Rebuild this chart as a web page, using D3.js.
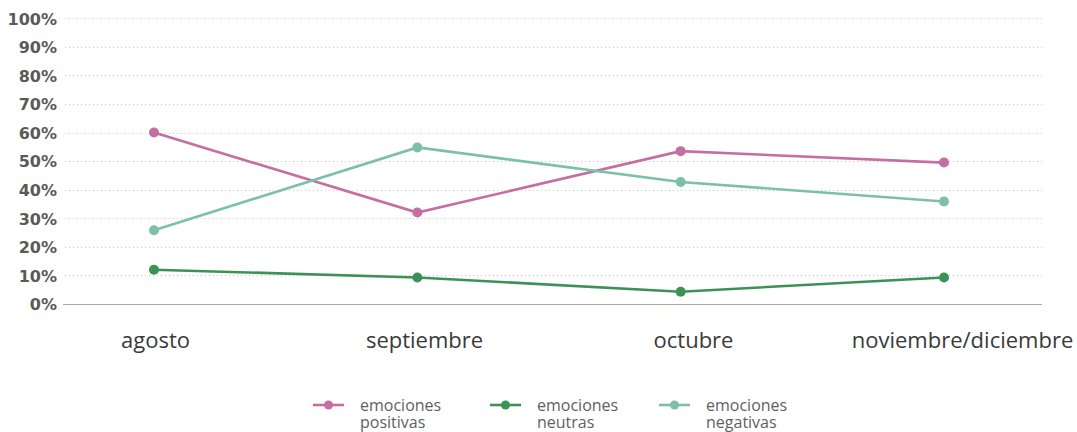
<!DOCTYPE html>
<html><head><meta charset="utf-8">
<script src="https://cdn.jsdelivr.net/npm/d3@7"></script>
<style>body{margin:0;background:#fff}svg{display:block}</style>
</head><body><svg id="c" width="1077" height="432"></svg>
<script>
const categories = ["agosto","septiembre","octubre","noviembre/diciembre"];
const positivas = [60, 32, 53.5, 49.5];
const neutras = [12, 9.3, 4.3, 9.3];
const negativas = [25.8, 54.8, 42.7, 35.9];
const yTicks = [0,10,20,30,40,50,60,70,80,90,100];
const seriesNames = ["emociones positivas","emociones neutras","emociones negativas"];
const colors = ["#c56ea4","#3c9157","#7dc0aa"];

const series = [positivas, neutras, negativas];
const svg = d3.select("#c");
const x = d3.scalePoint().domain(categories).range([154, 944]);
const xl = d3.scalePoint().domain(categories).range([155, 962]);
const y = d3.scaleLinear().domain([0,100]).range([304, 18.3]);

// gridlines
svg.append("g").selectAll("line").data(yTicks.filter(d=>d>0)).join("line")
  .attr("x1",65).attr("x2",1042).attr("y1",d=>Math.round(y(d))+0.5).attr("y2",d=>Math.round(y(d))+0.5)
  .attr("stroke","#c8c8c8").attr("stroke-width",1).attr("stroke-dasharray","1,3");
svg.append("line").attr("x1",63).attr("x2",1042).attr("y1",304.5).attr("y2",304.5)
  .attr("stroke","#aaa898").attr("stroke-width",1.2);

// y labels
const yAxis = d3.axisLeft(y).tickValues(yTicks).tickFormat(d=>d+"%").tickSize(0).tickPadding(0);
const ya = svg.append("g").attr("transform","translate(57,0)").call(yAxis);
ya.select(".domain").remove();
ya.selectAll("text").attr("font-family","'DejaVu Sans'").attr("font-weight",700).attr("font-size",16)
  .attr("fill","#5a5a5a").attr("dy","0.36em");

// x labels
const xAxis = d3.axisBottom(xl).tickSize(0).tickPadding(0);
const xa = svg.append("g").attr("transform","translate(0,348)").call(xAxis);
xa.select(".domain").remove();
xa.selectAll("text").attr("font-family","'Open Sans'").attr("font-size",22).attr("fill","#3a3a3a").attr("dy","0");

// lines
const line = d3.line().x((d,i)=>x(categories[i])).y(d=>y(d));
series.forEach((s,k)=>{
  svg.append("path").datum(s).attr("d",line).attr("fill","none").attr("stroke",colors[k]).attr("stroke-width",2.6);
  svg.append("g").selectAll("circle").data(s).join("circle")
    .attr("cx",(d,i)=>x(categories[i])).attr("cy",d=>y(d)).attr("r",5).attr("fill",colors[k]);
});

// legend
const lx = [313, 490, 659];
const lg = svg.append("g");
seriesNames.forEach((n,k)=>{
  const g = lg.append("g").attr("transform",`translate(${lx[k]},405)`);
  g.append("line").attr("x1",0).attr("x2",31).attr("stroke",colors[k]).attr("stroke-width",2.6);
  g.append("circle").attr("cx",15.5).attr("r",4.5).attr("fill",colors[k]);
  const parts = n.split(" ");
  g.selectAll("text").data(parts).join("text")
    .attr("x",47).attr("y",(d,i)=>5.5+i*17)
    .attr("font-family","'Open Sans'").attr("font-size",16).attr("fill","#5f5f5f").text(d=>d);
});
</script></body></html>
